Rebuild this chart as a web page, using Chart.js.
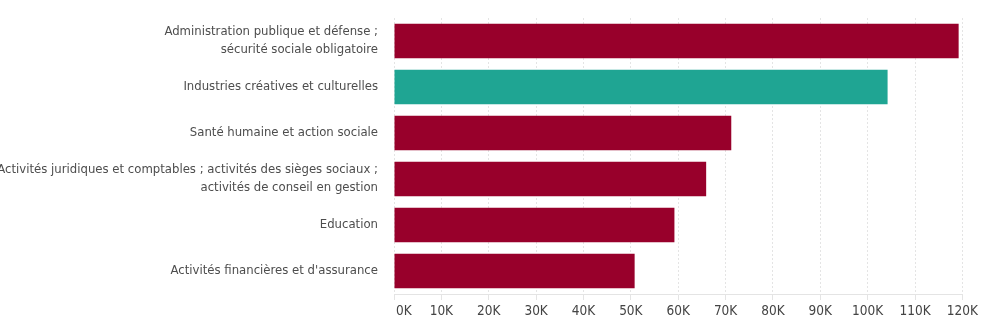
<!DOCTYPE html>
<html>
<head>
<meta charset="utf-8">
<script src="https://cdn.jsdelivr.net/npm/chart.js@4/dist/chart.umd.min.js"></script>
<style>
  html, body { margin: 0; padding: 0; background: #ffffff; }
  #wrap { width: 981px; height: 334px; position: relative; }
</style>
</head>
<body>
<div id="wrap"><canvas id="chart"></canvas></div>
<script>
// Secteurs (libellés sur plusieurs lignes)
const sectors = [
  ["Administration publique et défense ;", "sécurité sociale obligatoire"],
  "Industries créatives et culturelles",
  "Santé humaine et action sociale",
  ["Activités juridiques et comptables ; activités des sièges sociaux ;", "activités de conseil en gestion"],
  "Education",
  "Activités financières et d'assurance"
];
// Effectifs par secteur
const employment = [119200, 104200, 71200, 65900, 59200, 50800];
// Secteur mis en avant
const highlighted = [false, true, false, false, false, false];
// Graduations de l'axe horizontal
const xTicks = [0, 10000, 20000, 30000, 40000, 50000, 60000, 70000, 80000, 90000, 100000, 110000, 120000];

const RED = '#98002b';
const TEAL = '#1fa593';
const FONT = "'Liberation Sans Narrow', 'DejaVu Sans Condensed', sans-serif";

// Le libellé « 0K » est aligné à gauche sur l'origine de l'axe
const zeroLabel = {
  id: 'zeroLabel',
  afterDraw(chart) {
    const x = chart.scales.x;
    const ctx = chart.ctx;
    ctx.save();
    ctx.font = "13.5px " + FONT;
    ctx.fillStyle = '#444';
    ctx.textAlign = 'left';
    ctx.textBaseline = 'middle';
    ctx.fillText(xTicks[0] / 1000 + 'K', x.getPixelForValue(xTicks[0]) + 2, x.top + 17);
    ctx.restore();
  }
};

new Chart(document.getElementById('chart'), {
  type: 'bar',
  data: {
    labels: sectors,
    datasets: [{
      data: employment,
      backgroundColor: highlighted.map(h => h ? TEAL : RED),
      borderWidth: 0,
      barPercentage: 0.75,
      categoryPercentage: 1.0
    }]
  },
  options: {
    indexAxis: 'y',
    responsive: true,
    maintainAspectRatio: false,
    animation: false,
    layout: { padding: { top: 18, right: 17, bottom: 0, left: 0 } },
    plugins: {
      legend: { display: false },
      tooltip: { enabled: false }
    },
    scales: {
      x: {
        min: 0,
        max: 120000,
        afterBuildTicks(scale) { scale.ticks = xTicks.map(v => ({ value: v })); },
        afterFit(scale) { scale.height = 40; },
        grid: {
          color: '#e4e4e4',
          lineWidth: 1,
          tickLength: 6,
          drawTicks: true
        },
        border: { display: true, color: '#e4e4e4', dash: [2, 2] },
        ticks: {
          font: { family: FONT, size: 13.5 },
          color: ctx => ctx.index === 0 ? 'rgba(0,0,0,0)' : '#444',
          padding: 3,
          maxRotation: 0,
          autoSkip: false,
          callback: v => (v / 1000) + 'K'
        }
      },
      y: {
        afterFit(scale) {
          scale.width = 394;
          scale.paddingTop = 0;
          scale.paddingBottom = 0;
        },
        grid: { display: false },
        border: { display: false },
        ticks: {
          font: { family: FONT, size: 13, lineHeight: 1.38 },
          color: '#4d4d4d',
          padding: 8,
          autoSkip: false
        }
      }
    }
  },
  plugins: [zeroLabel]
});
</script>
</body>
</html>
